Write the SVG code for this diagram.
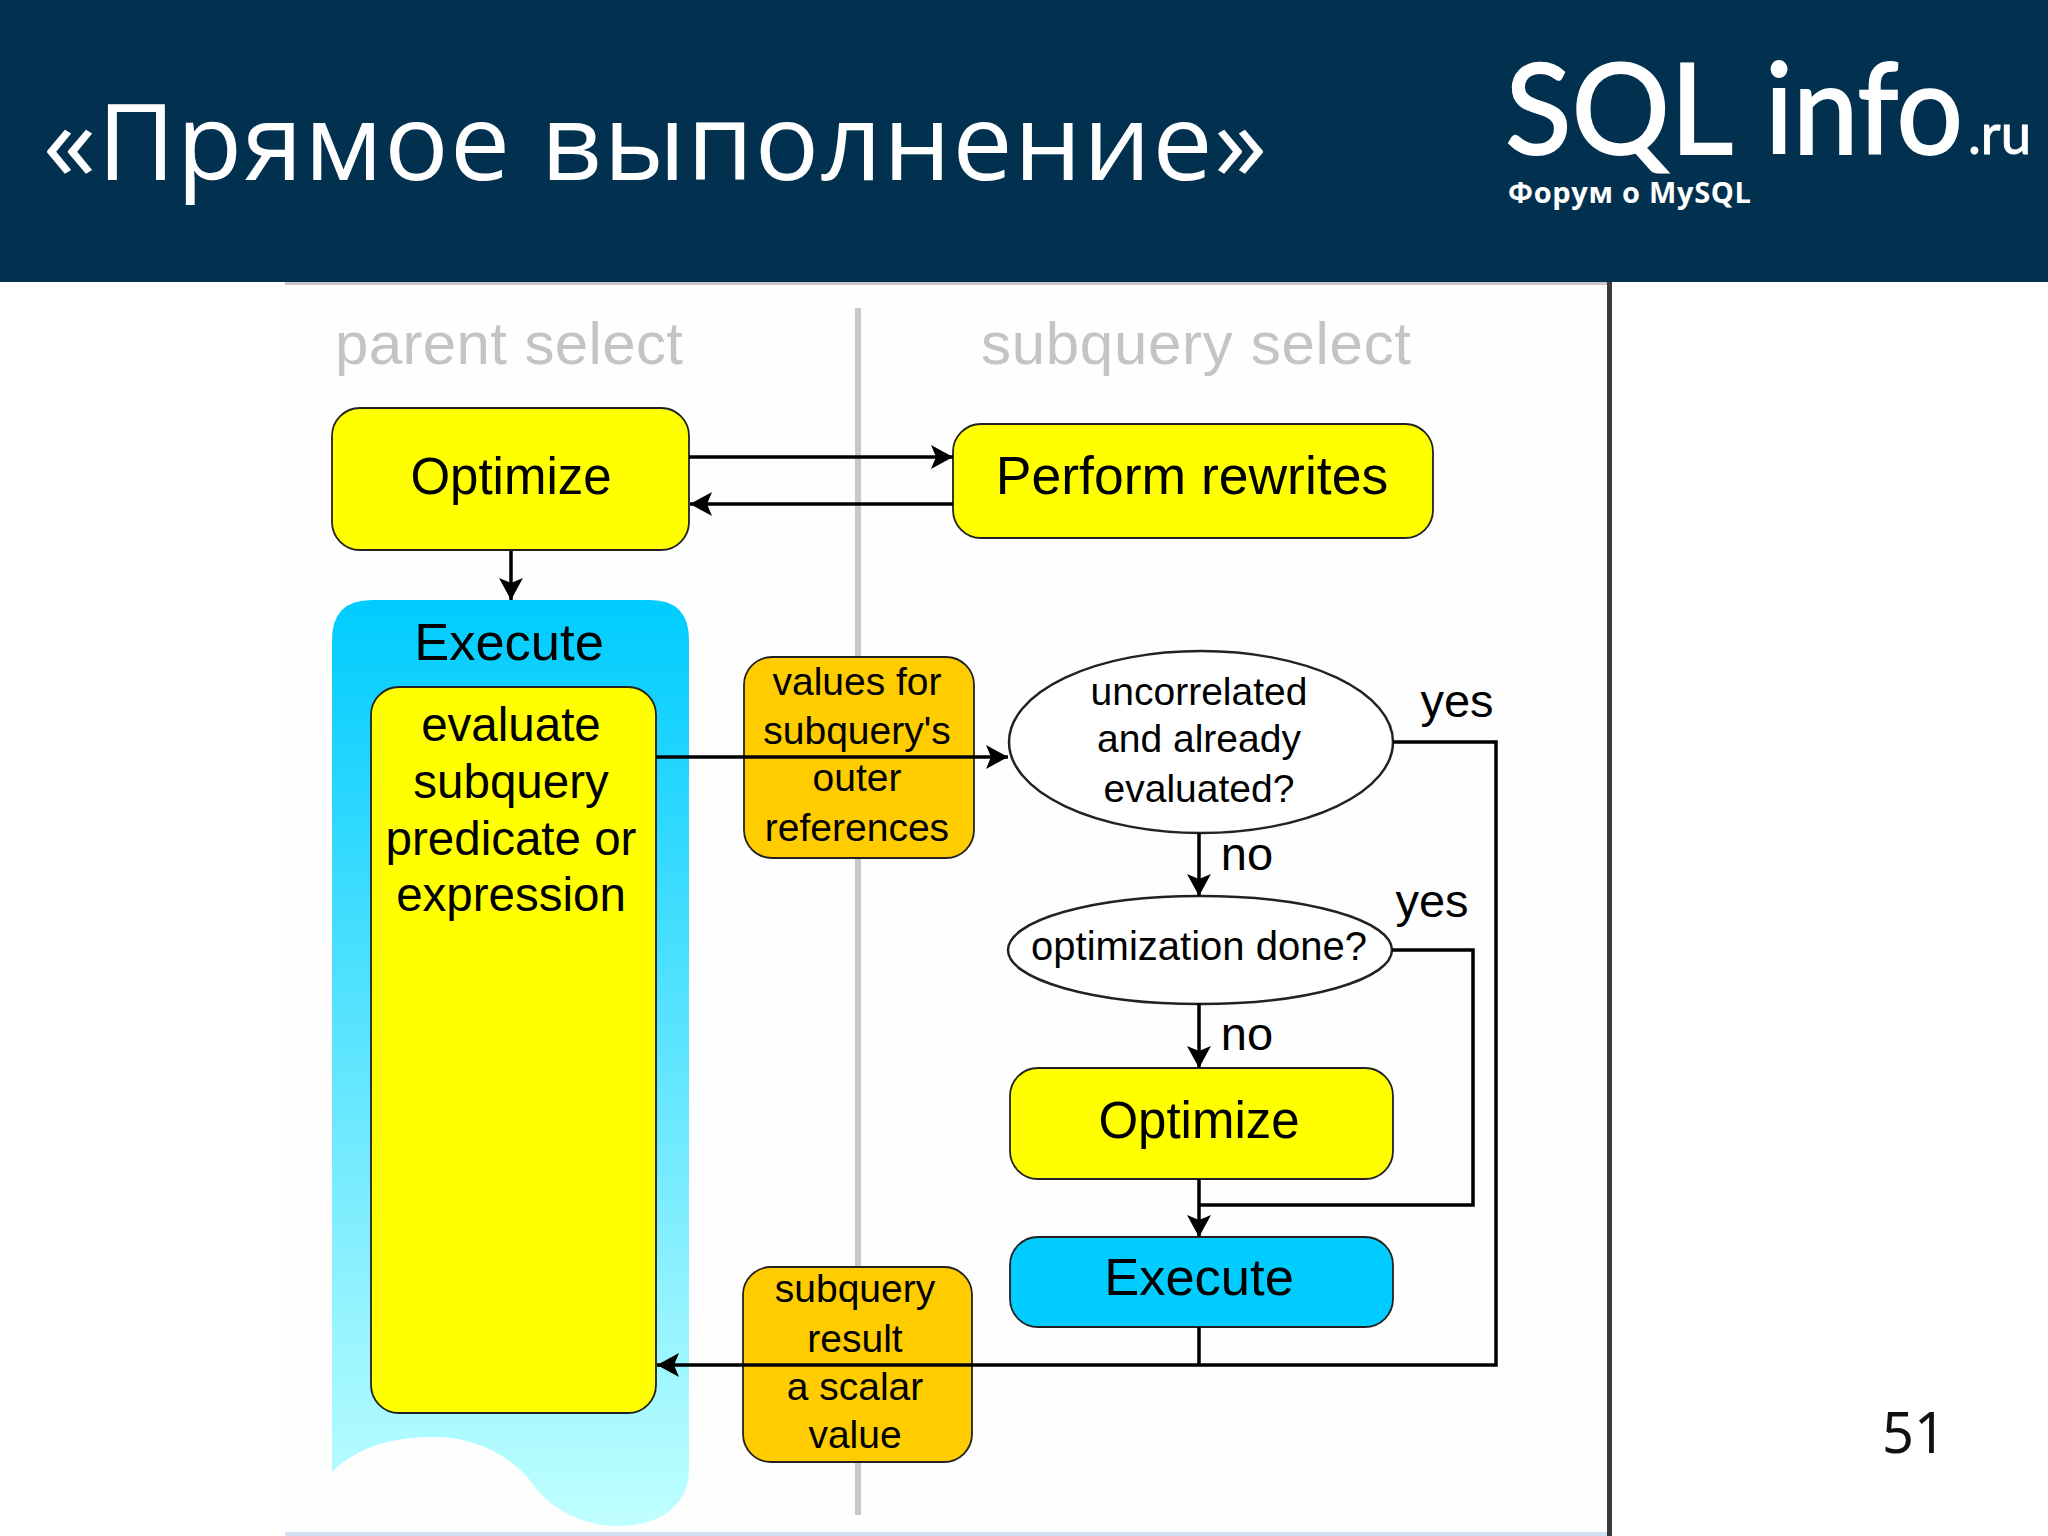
<svg xmlns="http://www.w3.org/2000/svg" width="2048" height="1536" viewBox="0 0 2048 1536">
<style>
text{font-family:"Liberation Sans",Arial,sans-serif;fill:#000;text-anchor:middle}
.box{stroke:#222;stroke-width:1.8}
.y{fill:#ffff00}.o{fill:#ffcc00}.c{fill:#00ccff}
.e{fill:#fff;stroke:#222;stroke-width:2.5}
.w{fill:none;stroke:#000;stroke-width:3.5}
.a{marker-end:url(#h)}
.t50{font-size:51px}.t52{font-size:52.5px}.t47{font-size:47.5px}.t39{font-size:39px}.t44{font-size:47px}
.hd{font-size:60px;fill:#c4c4c4}
.l{font-family:"Lato","Noto Sans",sans-serif;fill:#fff;stroke:#fff;text-anchor:start}
</style>
<defs>
<linearGradient id="g" gradientUnits="userSpaceOnUse" x1="0" y1="600" x2="0" y2="1526">
<stop offset="0" stop-color="#00ccff"/><stop offset="1" stop-color="#c0ffff"/>
</linearGradient>
<marker id="h" markerUnits="userSpaceOnUse" markerWidth="26" markerHeight="28" viewBox="0 0 26 28" refX="24" refY="14" orient="auto">
<path d="M24 14L2 2L7 14L2 26Z" fill="#000"/>
</marker>
</defs>
<rect width="2048" height="1536" fill="#fff"/>
<rect x="285" y="282" width="1324" height="1254" fill="#fefefe"/>
<rect x="285" y="1532" width="1325" height="4" fill="#d3e0f3"/>
<rect x="285" y="282" width="1325" height="3" fill="#c8c8c8"/>
<rect x="1607" y="282" width="5" height="1254" fill="#3a3a3a"/>
<rect x="855" y="308" width="6" height="1207" fill="#c8c8cc"/>
<g id="header">
<rect width="2048" height="282" fill="#023150"/>
<text x="43" y="180" textLength="1224" style="font-family:'Open Sans','Noto Sans',sans-serif;font-size:107px;fill:#fff;text-anchor:start">«Прямое выполнение»</text>
<text class="l" x="1505" y="154" textLength="228" lengthAdjust="spacingAndGlyphs" style="font-size:126px;stroke-width:2">SQL</text>
<text class="l" x="1765" y="154" textLength="198" lengthAdjust="spacingAndGlyphs" style="font-size:126px;stroke-width:2">info</text>
<text class="l" x="1968" y="154" textLength="63" lengthAdjust="spacingAndGlyphs" style="font-size:56px;stroke-width:1">.ru</text>
<text class="l" x="1508" y="203" textLength="243" style="font-family:'Open Sans','Noto Sans',sans-serif;font-size:29px;font-weight:700;stroke:none">Форум о MySQL</text>
</g>
<text class="hd" x="509" y="364" textLength="348">parent select</text>
<text class="hd" x="1196" y="364" textLength="430">subquery select</text>
<g id="execute-parent">
<path d="M332 640Q332 600 372 600H650Q689 600 689 640V1470C689 1505 660 1526 618 1526C590 1526 555 1515 532 1483C515 1460 480 1437 434 1437C395 1437 360 1445 332 1472Z" fill="url(#g)"/>
<text class="t52" x="509" y="660">Execute</text>
</g>
<g id="optimize-parent"><rect class="box y" x="332" y="408" width="357" height="142" rx="28"/><text class="t50" x="511" y="494">Optimize</text></g>
<g id="evaluate"><rect class="box y" x="371" y="687" width="285" height="726" rx="28"/>
<text class="t47" x="511" y="741">evaluate</text><text class="t47" x="511" y="798">subquery</text><text class="t47" x="511" y="855">predicate or</text><text class="t47" x="511" y="911">expression</text></g>
<g id="rewrites"><rect class="box y" x="953" y="424" width="480" height="114" rx="28"/><text class="t50" style="font-size:53.5px" x="1192" y="494">Perform rewrites</text></g>
<g id="values"><rect class="box o" x="744" y="657" width="230" height="201" rx="28"/>
<text class="t39" x="857" y="695">values for</text><text class="t39" x="857" y="744">subquery's</text><text class="t39" x="857" y="791">outer</text><text class="t39" x="857" y="841">references</text></g>
<g id="result"><rect class="box o" x="743" y="1267" width="229" height="195" rx="28"/>
<text class="t39" x="855" y="1302">subquery</text><text class="t39" x="855" y="1352">result</text><text class="t39" x="855" y="1400">a scalar</text><text class="t39" x="855" y="1448">value</text></g>
<g id="uncorrelated"><ellipse class="e" cx="1201" cy="742" rx="192" ry="91"/>
<text class="t39" x="1199" y="705">uncorrelated</text><text class="t39" x="1199" y="752">and already</text><text class="t39" x="1199" y="802">evaluated?</text></g>
<g id="optdone"><ellipse class="e" cx="1200" cy="950" rx="192" ry="54"/><text class="t39" style="font-size:40px" x="1199" y="960">optimization done?</text></g>
<g id="optimize-sub"><rect class="box y" x="1010" y="1068" width="383" height="111" rx="28"/><text class="t50" x="1199" y="1138">Optimize</text></g>
<g id="execute-sub"><rect class="box c" x="1010" y="1237" width="383" height="90" rx="28"/><text class="t52" x="1199" y="1295">Execute</text></g>
<g id="connectors">
<path class="w a" d="M689 457H953"/>
<path class="w a" d="M953 504H690"/>
<path class="w a" d="M511 551V600"/>
<path class="w a" d="M656 757H1008"/>
<path class="w a" d="M1199 833V896"/>
<path class="w a" d="M1199 1003V1068"/>
<path class="w a" d="M1199 1179V1237"/>
<path class="w" d="M1392 950H1473V1205H1199"/>
<path class="w a" d="M1393 742H1496V1365H657"/>
<path class="w" d="M1199 1327V1365"/>
</g>
<text class="t44" x="1457" y="717">yes</text>
<text class="t44" x="1432" y="917">yes</text>
<text class="t44" x="1247" y="870">no</text>
<text class="t44" x="1247" y="1050">no</text>
<text x="1914" y="1453" style="font-family:'Noto Sans','Open Sans',sans-serif;font-size:56px;fill:#111">51</text>
</svg>
